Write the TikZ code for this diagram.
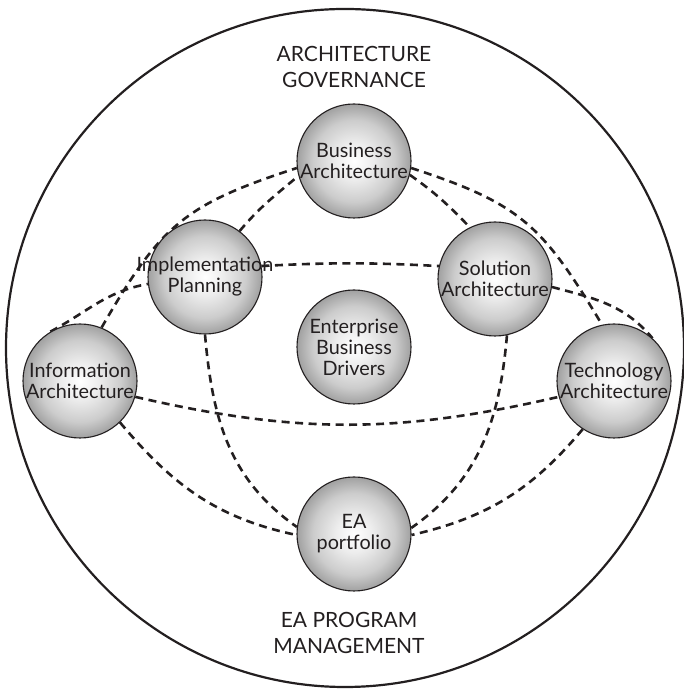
\documentclass[tikz,border=0pt]{standalone}
\usepackage{fontspec}
\setmainfont{Lato}
\usetikzlibrary{backgrounds}
\definecolor{ink}{HTML}{231F20}
\pgfdeclareradialshading{ballshade}{\pgfpoint{0bp}{0bp}}{color(0bp)=(white); color(8bp)=(black!7); color(18bp)=(black!20); color(25bp)=(black!37); color(50bp)=(black!37)}
\newcommand\ctr[1]{\makebox[0pt]{#1}}
\tikzset{
  ball/.style={circle, draw=ink, line width=1.1pt, minimum size=114pt, inner sep=0pt,
    shading=ballshade, text=ink, align=center,
    font=\fontsize{19.8}{21}\selectfont},
  link/.style={draw=ink, line width=2.6pt, dash pattern=on 8pt off 5.5pt},
  title/.style={text=ink, align=center, font=\fontsize{21}{25.5}\selectfont},
  frame/.style={circle, draw=ink, line width=2.2pt, minimum size=678pt, inner sep=0pt}
}
\begin{document}
\begin{tikzpicture}[x=1pt,y=1pt]
\useasboundingbox (0,0) rectangle (683,690);
\node[frame] (outer) at (345,342) {};
\node[title] (gov) at (354,623) {ARCHITECTURE\\GOVERNANCE};
\node[title] (mgmt) at (349,57) {EA PROGRAM\\MANAGEMENT};

\node[ball] (BA) at (354,529) {\ctr{Business}\\\ctr{Architecture}};
\node[ball] (IP) at (205,413) {\ctr{Implementation}\\\ctr{Planning}};
\node[ball] (SA) at (495,411) {\ctr{Solution}\\\ctr{Architecture}};
\node[ball] (IA) at (80,309) {\ctr{Information}\\\ctr{Architecture}};
\node[ball] (TA) at (614,309) {\ctr{Technology}\\\ctr{Architecture}};
\node[ball] (EBD) at (354,343) {\ctr{Enterprise}\\\ctr{Business}\\\ctr{Drivers}};
\node[ball] (EA) at (354,156) {\ctr{EA}\\\ctr{portfolio}};

\begin{pgfonlayer}{background}
% horizontal ring
\draw[link] (IA.121) to[out=28, in=190] (IP.187);
\draw[link] (IP.11) to[out=3, in=177] (SA.167);
\draw[link] (SA.352) to[out=-15, in=130] (TA.48);
\draw[link] (IA.344) to[out=-13, in=193] (TA.196);
% outer arcs through Business Architecture
\draw[link] (IA.68) to[out=60, in=198, looseness=1.2] (BA.187);
\draw[link] (BA.353) to[out=-18, in=121, looseness=1.2] (TA.102);
% inner arcs
\draw[link] (IP.53) to[out=50, in=220] (BA.195);
\draw[link] (BA.346) to[out=-35, in=134] (SA.116);
% down to EA portfolio
\draw[link] (IP.270) to[out=-85, in=145] (EA.173);
\draw[link] (SA.282) to[out=-95, in=35] (EA.6);
\draw[link] (IA.314) to[out=-50, in=168] (EA.181);
\draw[link] (TA.237) to[out=230, in=13] (EA.359);
\end{pgfonlayer}
\end{tikzpicture}
\end{document}
